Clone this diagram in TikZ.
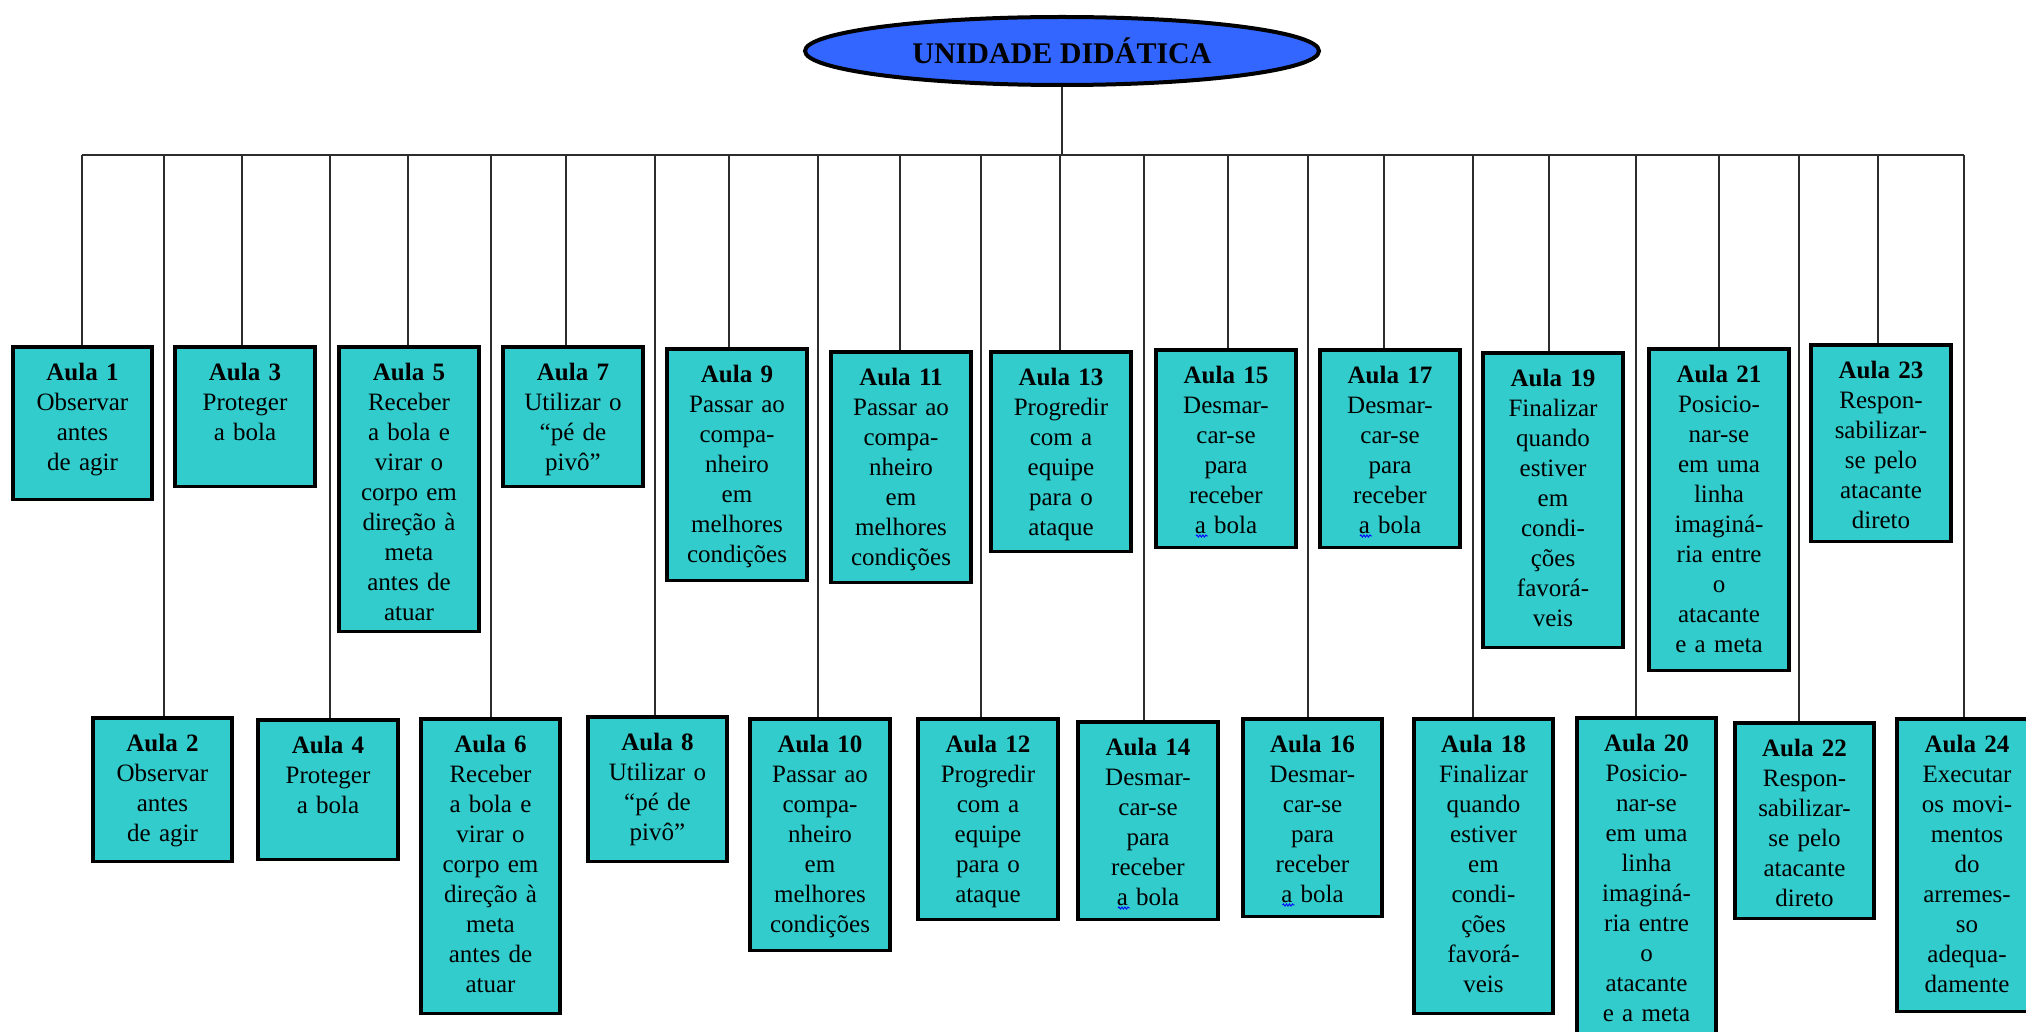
\documentclass[tikz,border=0pt]{standalone}
\usepackage{fontspec}
\setmainfont{Liberation Serif}
\usetikzlibrary{shapes.geometric,decorations.pathmorphing}

\definecolor{unitblue}{RGB}{51,102,255}
\definecolor{lessonteal}{RGB}{51,204,204}
\definecolor{wirecol}{RGB}{45,45,45}

% \lesson{name}{centre x}{top}{bottom}{drop x}{text}
\newcommand\lesson[6]{%
  \node[lessonbox, minimum height={#4-#3-3.5}] (#1) at (#2,#3) {};
  \node[lessontext] (#1t) at ([yshift=-18pt]#1.north) {#6};
  \coordinate (#1d) at (#5,155);
  \draw[wire] (#1d) -- (#1d |- #1.north);
}
% wavy mark under the "a" of the last line "a bola"
\newcommand\squiggle[1]{%
  \draw[squig] ([xshift=-30pt,yshift=-170pt]#1t.north) -- ([xshift=-18pt,yshift=-170pt]#1t.north);
}

\begin{document}
\begin{tikzpicture}[x=1pt,y=-1pt,
  lessonbox/.style={draw=black, line width=3.6pt, fill=lessonteal, rectangle,
    anchor=north, minimum width=139.5pt, inner sep=0pt},
  lessontext/.style={anchor=north, align=center, text width=140pt, inner sep=0pt,
    font=\fontsize{25}{30}\selectfont},
  wire/.style={draw=wirecol, line width=1.4pt},
  squig/.style={draw=blue, line width=0.9pt,
    decorate, decoration={snake, amplitude=1.1pt, segment length=3pt}},
  unit/.style={ellipse, draw=black, line width=4pt, fill=unitblue,
    minimum width=514pt, minimum height=68pt, inner sep=0pt,
    font=\fontsize{30}{36}\selectfont\bfseries}
]
\useasboundingbox[fill=white] (0,0) rectangle (2026,1032);

\node[unit] (unit) at (1062,51) {UNIDADE DIDÁTICA};

% upper row
\lesson{a1}{82.5}{345}{501}{82}{\textbf{Aula 1}\\Observar\\antes\\de agir}
\lesson{a3}{245}{345}{488}{242}{\textbf{Aula 3}\\Proteger\\a bola}
\lesson{a5}{409}{345}{633}{408}{\textbf{Aula 5}\\Receber\\a bola e\\virar o\\corpo em\\direção à\\meta\\antes de\\atuar}
\lesson{a7}{573}{345}{488}{566}{\textbf{Aula 7}\\Utilizar o\\“pé de\\pivô”}
\lesson{a9}{737}{347}{582}{729}{\textbf{Aula 9}\\Passar ao\\compa-\\nheiro\\em\\melhores\\condições}
\lesson{a11}{901}{350}{584}{900}{\textbf{Aula 11}\\Passar ao\\compa-\\nheiro\\em\\melhores\\condições}
\lesson{a13}{1061}{350}{553}{1060}{\textbf{Aula 13}\\Progredir\\com a\\equipe\\para o\\ataque}
\lesson{a15}{1226}{348}{549}{1228}{\textbf{Aula 15}\\Desmar-\\car-se\\para\\receber\\a bola}
\lesson{a17}{1390}{348}{549}{1384}{\textbf{Aula 17}\\Desmar-\\car-se\\para\\receber\\a bola}
\lesson{a19}{1553}{351}{649}{1549}{\textbf{Aula 19}\\Finalizar\\quando\\estiver\\em\\condi-\\ções\\favorá-\\veis}
\lesson{a21}{1719}{347}{672}{1719}{\textbf{Aula 21}\\Posicio-\\nar-se\\em uma\\linha\\imaginá-\\ria entre\\o\\atacante\\e a meta}
\lesson{a23}{1881}{343}{543}{1878}{\textbf{Aula 23}\\Respon-\\sabilizar-\\se pelo\\atacante\\direto}

% lower row
\lesson{a2}{162.5}{716}{863}{164}{\textbf{Aula 2}\\Observar\\antes\\de agir}
\lesson{a4}{328}{718}{861}{330}{\textbf{Aula 4}\\Proteger\\a bola}
\lesson{a6}{490.5}{717}{1015}{491}{\textbf{Aula 6}\\Receber\\a bola e\\virar o\\corpo em\\direção à\\meta\\antes de\\atuar}
\lesson{a8}{657.5}{715}{863}{655}{\textbf{Aula 8}\\Utilizar o\\“pé de\\pivô”}
\lesson{a10}{820}{717}{952}{818}{\textbf{Aula 10}\\Passar ao\\compa-\\nheiro\\em\\melhores\\condições}
\lesson{a12}{988}{717}{921}{981}{\textbf{Aula 12}\\Progredir\\com a\\equipe\\para o\\ataque}
\lesson{a14}{1148}{720}{921}{1144}{\textbf{Aula 14}\\Desmar-\\car-se\\para\\receber\\a bola}
\lesson{a16}{1312.5}{717}{918}{1308}{\textbf{Aula 16}\\Desmar-\\car-se\\para\\receber\\a bola}
\lesson{a18}{1483.5}{717}{1015}{1473}{\textbf{Aula 18}\\Finalizar\\quando\\estiver\\em\\condi-\\ções\\favorá-\\veis}
\lesson{a20}{1646.5}{716}{1048}{1636}{\textbf{Aula 20}\\Posicio-\\nar-se\\em uma\\linha\\imaginá-\\ria entre\\o\\atacante\\e a meta}
\lesson{a22}{1804.5}{721}{920}{1799}{\textbf{Aula 22}\\Respon-\\sabilizar-\\se pelo\\atacante\\direto}
\lesson{a24}{1967}{717}{1013}{1964}{\textbf{Aula 24}\\Executar\\os movi-\\mentos\\do\\arremes-\\so\\adequa-\\damente}

% spelling marks under "a bola"
\squiggle{a14}
\squiggle{a15}
\squiggle{a16}
\squiggle{a17}

% distribution bus and stem from the unit
\draw[wire] (a1d) -- (a24d);
\draw[wire] (unit.south) -- (unit.south |- a1d);
\end{tikzpicture}
\end{document}
